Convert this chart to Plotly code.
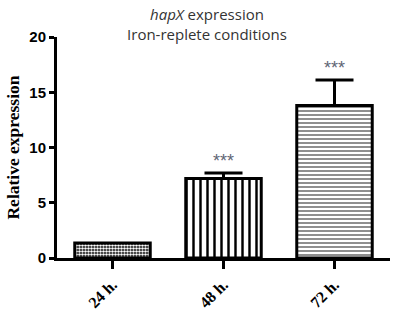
import plotly.graph_objects as go

categories = ["24 h.", "48 h.", "72 h."]
values = [1.35, 7.2, 13.8]
err_up = [0.0, 0.5, 2.3]
signif = ["", "***", "***"]
y_ticks = [0, 5, 10, 15, 20]

shapes_pat = [".", "|", "-"]
pat_bg = ["black", "white", "white"]
pat_fg = ["white", "black", "#444"]
pat_size = [3, 7, 4]
pat_sol = [0.55, 0.35, 0.3]

fig = go.Figure()
for i, c in enumerate(categories):
    fig.add_trace(go.Bar(
        x=[c], y=[values[i]], width=0.68,
        marker=dict(color=pat_bg[i], line=dict(color="black", width=3),
                    pattern=dict(shape=shapes_pat[i], bgcolor=pat_bg[i], fgcolor=pat_fg[i],
                                 size=pat_size[i], solidity=pat_sol[i], fillmode="replace")),
        error_y=dict(type="data", symmetric=False, array=[err_up[i]], arrayminus=[0],
                     color="black", thickness=3, width=19, visible=err_up[i] > 0),
        showlegend=False,
    ))

for i, c in enumerate(categories):
    if signif[i]:
        fig.add_annotation(x=c, y=values[i] + err_up[i], yshift=12, text=signif[i],
                           showarrow=False, font=dict(family="Liberation Sans", size=18, color="#5f6675"))

fig.update_layout(
    width=397, height=312,
    margin=dict(l=57, r=7, t=37, b=54),
    plot_bgcolor="white", paper_bgcolor="white",
    title=dict(text="<i>hapX</i> expression<br>Iron-replete conditions",
               x=207/397, xanchor="center", yref="container", y=0.935, yanchor="top",
               font=dict(family="Open Sans", size=15, color="#333")),
)
fig.update_yaxes(range=[0, 20], tickvals=y_ticks, showline=True, linecolor="black", linewidth=3,
                 ticks="outside", ticklen=5, tickwidth=3, tickcolor="black", showgrid=False, zeroline=False,
                 automargin=False,
                 tickfont=dict(family="Liberation Sans", size=15, color="black", weight="bold"),
                 title=dict(text="<b>Relative expression</b>", standoff=6,
                            font=dict(family="Liberation Serif", size=17.5, color="black")))
fig.update_xaxes(showline=True, linecolor="black", linewidth=3, ticks="outside", ticklen=8,
                 tickwidth=3, tickcolor="black", tickangle=-45, showgrid=False, automargin=False,
                 tickfont=dict(family="Liberation Serif", size=16, color="black", weight="bold"))

fig.write_html("out.html", post_script="document.body.style.margin='0';",
               config={"displayModeBar": False})
